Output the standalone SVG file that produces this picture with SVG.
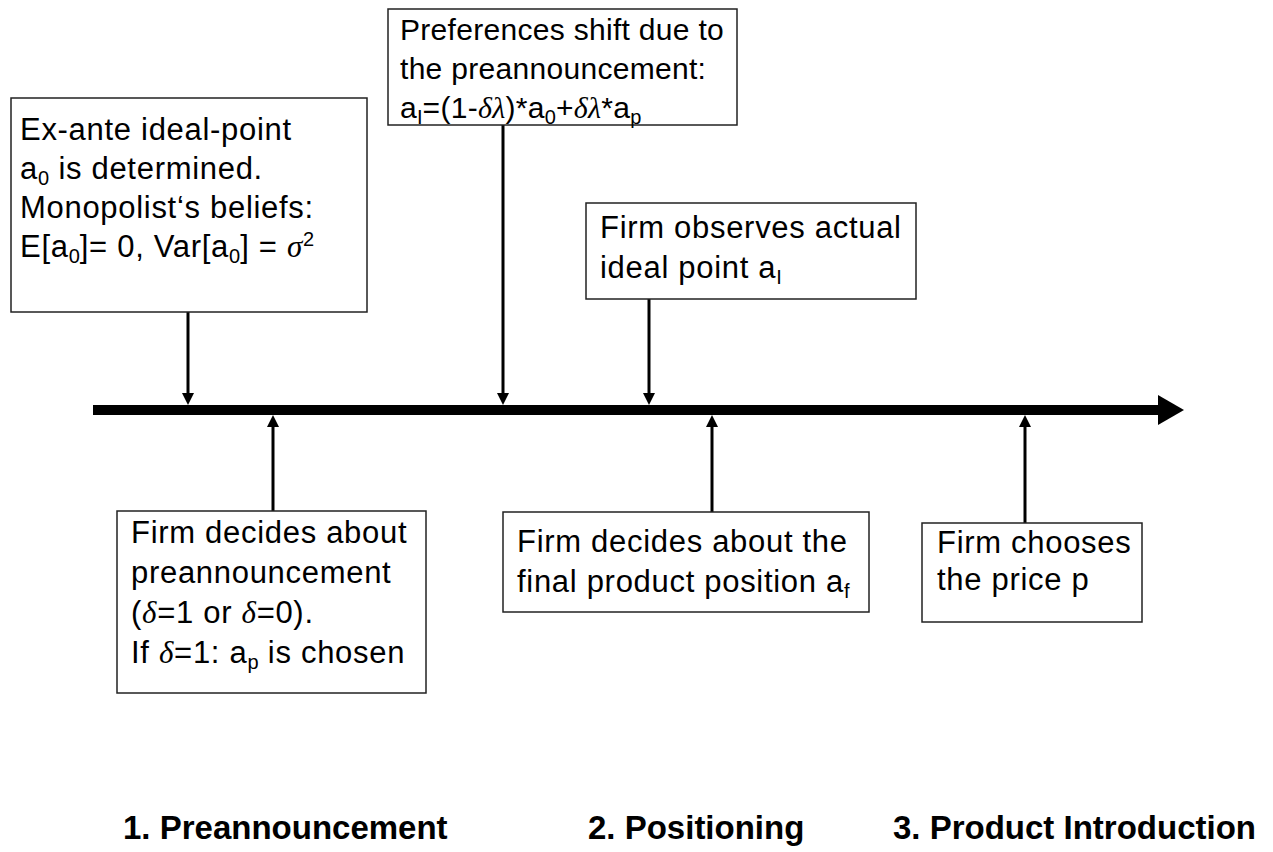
<svg xmlns="http://www.w3.org/2000/svg" width="1273" height="852" viewBox="0 0 1273 852">
<defs>
<style>
.box{fill:#fff;stroke:#222;stroke-width:1.5}
.t{font-family:"Liberation Sans",Arial,sans-serif;font-size:31px;letter-spacing:0.7px;fill:#000}
.n2 .t{font-size:30px;letter-spacing:0.3px}
.s{font-size:20px;letter-spacing:0}
.g{font-family:"Liberation Serif","Times New Roman",serif;font-style:italic}
.conn{stroke:#000;stroke-width:3;fill:none}
.lbl{font-family:"Liberation Sans",Arial,sans-serif;font-size:33px;font-weight:bold;fill:#000}
</style>
<marker id="ah" markerUnits="userSpaceOnUse" markerWidth="12" markerHeight="12" refX="1" refY="6" orient="auto">
<path d="M0,0 L12,6 L0,12 z" fill="#000"/>
</marker>
<marker id="big" markerUnits="userSpaceOnUse" markerWidth="28" markerHeight="32" refX="1" refY="15" orient="auto">
<path d="M0,0 L26,15 L0,30 z" fill="#000"/>
</marker>
</defs>
<rect width="1273" height="852" fill="#fff"/>
<g id="connectors">
<line class="conn" x1="93" y1="410" x2="1159" y2="410" style="stroke-width:10" marker-end="url(#big)"/>
<line class="conn" x1="188" y1="312" x2="188" y2="394" marker-end="url(#ah)"/>
<line class="conn" x1="503" y1="125" x2="503" y2="394" marker-end="url(#ah)"/>
<line class="conn" x1="649" y1="299" x2="649" y2="394" marker-end="url(#ah)"/>
<line class="conn" x1="273" y1="511" x2="273" y2="426" marker-end="url(#ah)"/>
<line class="conn" x1="712" y1="512" x2="712" y2="426" marker-end="url(#ah)"/>
<line class="conn" x1="1025" y1="523" x2="1025" y2="426" marker-end="url(#ah)"/>
</g>
<g id="node1">
<rect class="box" x="11" y="98" width="356" height="214"/>
<text class="t" x="20" y="140">Ex-ante ideal-point</text>
<text class="t" x="20" y="179">a<tspan class="s" dy="6">0</tspan><tspan dy="-6"> is determined.</tspan></text>
<text class="t" x="20" y="218">Monopolist‘s beliefs:</text>
<text class="t" x="20" y="257">E[a<tspan class="s" dy="6">0</tspan><tspan dy="-6">]= 0, Var[a</tspan><tspan class="s" dy="6">0</tspan><tspan dy="-6">] = </tspan><tspan class="g">σ</tspan><tspan class="s" dy="-11">2</tspan></text>
</g>
<g id="node2" class="n2">
<rect class="box" x="388" y="9" width="349" height="116"/>
<text class="t" x="400" y="40">Preferences shift due to</text>
<text class="t" x="400" y="79">the preannouncement:</text>
<text class="t" x="400" y="118">a<tspan class="s" dy="6">I</tspan><tspan dy="-6">=(1-</tspan><tspan class="g">δλ</tspan>)*a<tspan class="s" dy="6">0</tspan><tspan dy="-6">+</tspan><tspan class="g">δλ</tspan>*a<tspan class="s" dy="6">p</tspan></text>
</g>
<g id="node3">
<rect class="box" x="586" y="203" width="330" height="96"/>
<text class="t" x="600" y="238">Firm observes actual</text>
<text class="t" x="600" y="278">ideal point a<tspan class="s" dy="6">I</tspan></text>
</g>
<g id="node4">
<rect class="box" x="117" y="511" width="309" height="182"/>
<text class="t" x="131" y="543">Firm decides about</text>
<text class="t" x="131" y="583">preannouncement</text>
<text class="t" x="131" y="623">(<tspan class="g">δ</tspan>=1 or <tspan class="g">δ</tspan>=0).</text>
<text class="t" x="131" y="663">If <tspan class="g">δ</tspan>=1: a<tspan class="s" dy="6">p</tspan><tspan dy="-6"> is chosen</tspan></text>
</g>
<g id="node5">
<rect class="box" x="503" y="512" width="366" height="100"/>
<text class="t" x="517" y="552">Firm decides about the</text>
<text class="t" x="517" y="592">final product position a<tspan class="s" dy="6">f</tspan></text>
</g>
<g id="node6">
<rect class="box" x="922" y="523" width="220" height="99"/>
<text class="t" x="937" y="553">Firm chooses</text>
<text class="t" x="937" y="590">the price p</text>
</g>
<g id="phases">
<text class="lbl" x="123" y="839">1. Preannouncement</text>
<text class="lbl" x="588" y="839">2. Positioning</text>
<text class="lbl" x="893" y="839">3. Product Introduction</text>
</g>
</svg>
